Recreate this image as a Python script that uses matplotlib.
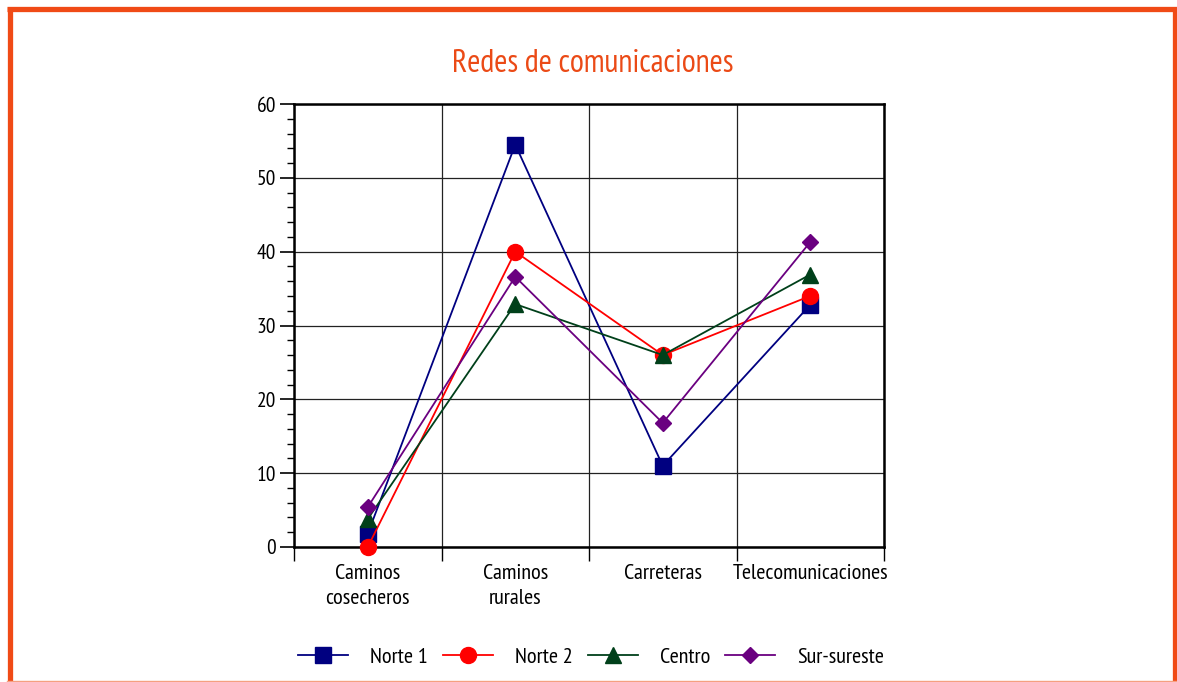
import matplotlib
matplotlib.use("Agg")
import matplotlib.pyplot as plt
from matplotlib import font_manager
from matplotlib.lines import Line2D

categories = ["Caminos\ncosecheros", "Caminos\nrurales", "Carreteras", "Telecomunicaciones"]
series_names = ["Norte 1", "Norte 2", "Centro", "Sur-sureste"]
norte1 = [1.8, 54.5, 11.0, 32.8]
norte2 = [0.0, 40.0, 26.0, 34.0]
centro = [3.8, 32.9, 26.0, 36.9]
sursureste = [5.4, 36.6, 16.8, 41.3]
y_ticks = [0, 10, 20, 30, 40, 50, 60]
title = "Redes de comunicaciones"

avail = {f.name for f in font_manager.fontManager.ttflist}
candidates = ["PT Sans Narrow", "Fira Sans Condensed", "Roboto Condensed", "Archivo Narrow",
              "Encode Sans Condensed", "IBM Plex Sans Condensed", "Open Sans Condensed",
              "Liberation Sans Narrow", "DejaVu Sans"]
fam = next(c for c in candidates if c in avail or c == "DejaVu Sans")
plt.rcParams['font.family'] = [fam, 'DejaVu Sans']

W, H = 1177, 682
fig = plt.figure(figsize=(W / 100, H / 100), dpi=100)

# Orange frame
border = "#F04A16"
fig.add_artist(Line2D([9.5 / W, 9.5 / W], [0, 1 - 7 / H], color=border, lw=3.8, transform=fig.transFigure, solid_capstyle="butt"))
fig.add_artist(Line2D([1174.5 / W, 1174.5 / W], [0, 1 - 7 / H], color=border, lw=3.8, transform=fig.transFigure, solid_capstyle="butt"))
fig.add_artist(Line2D([7 / W, 1177 / W], [1 - 8.5 / H, 1 - 8.5 / H], color=border, lw=3.8, transform=fig.transFigure, solid_capstyle="butt"))
fig.add_artist(Line2D([7 / W, 1177 / W], [0.8 / H, 0.8 / H], color="#F5A080", lw=1.0, transform=fig.transFigure))

ax = fig.add_axes([294 / W, (H - 547) / H, 590 / W, 443 / H])

styles = [
    (norte1, "#000080", "s", 11.5),
    (norte2, "#FF0000", "o", 11.5),
    (centro, "#00401A", "^", 11.5),
    (sursureste, "#6A0080", "D", 8.5),
]
x = list(range(len(categories)))
handles = []
for (vals, col, mk, ms), name in zip(styles, series_names):
    h, = ax.plot(x, vals, color=col, marker=mk, markersize=ms, lw=1.3,
                 markeredgecolor=col, label=name, clip_on=False, zorder=3)
    handles.append(h)

ax.set_xlim(-0.5, 3.5)
ax.set_ylim(0, 60)
ax.set_yticks(y_ticks)
ax.set_yticks(range(0, 61, 2), minor=True)
ax.set_xticks([-0.5, 0.5, 1.5, 2.5, 3.5])
ax.set_xticklabels([])
ax.set_xticks(x, minor=True)
ax.set_xticklabels(categories, minor=True, linespacing=1.4)
ax.tick_params(axis="x", which="major", direction="out", length=10, width=1.0, color="black")
ax.tick_params(axis="x", which="minor", length=0, pad=12, labelsize=16)
ax.tick_params(axis="y", which="major", direction="out", length=10, width=1.2, labelsize=15.5, pad=3)
ax.tick_params(axis="y", which="minor", direction="out", length=5, width=1.0)
ax.grid(True, which="major", color="#222222", lw=0.9)
ax.set_axisbelow(True)
for s in ax.spines.values():
    s.set_linewidth(1.8)
    s.set_color("black")

fig.text(593 / W, 1 - 64 / H, title, color="#EB4A16", fontsize=23, ha="center", va="center")

fig.legend(handles=handles, loc="center", bbox_to_anchor=(591 / W, 1 - 657 / H), ncol=4,
           frameon=False, fontsize=16, handlelength=2.25, handletextpad=1.0, columnspacing=0.68,
           borderaxespad=0)

fig.savefig("out.png", dpi=100, facecolor="white")
